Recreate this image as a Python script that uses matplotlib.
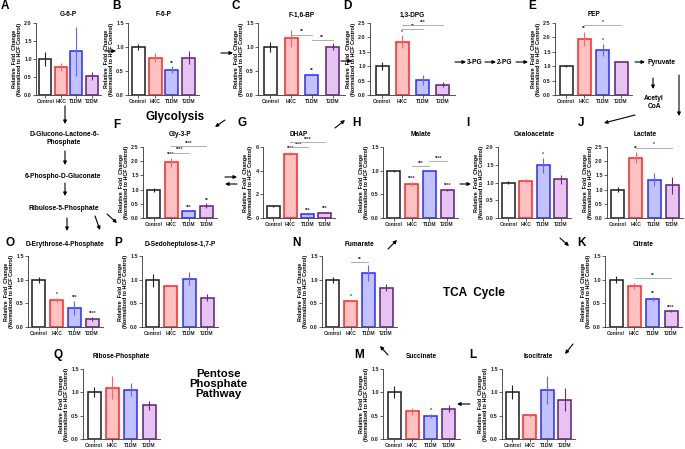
import matplotlib
matplotlib.use("Agg")
import matplotlib.pyplot as plt
from matplotlib.patches import FancyArrowPatch
from matplotlib.ticker import FormatStrFormatter
import numpy as np

plt.rcParams['font.family'] = ['Liberation Sans', 'DejaVu Sans']
plt.rcParams['font.weight'] = 'bold'

W, H = 685, 449

groups = ["Control", "HKC", "T1DM", "T2DM"]

g6p_mean = [1.00, 0.77, 1.21, 0.53]
g6p_err = [0.20, 0.11, 0.67, 0.11]
f6p_mean = [1.00, 0.78, 0.53, 0.78]
f6p_err = [0.06, 0.10, 0.07, 0.13]
f16bp_mean = [1.00, 1.18, 0.42, 1.01]
f16bp_err = [0.10, 0.17, 0.03, 0.08]
dpg_mean = [1.00, 1.85, 0.53, 0.36]
dpg_err = [0.14, 0.22, 0.18, 0.08]
pep_mean = [1.00, 1.95, 1.57, 1.16]
pep_err = [0.03, 0.25, 0.20, 0.02]
gly3p_mean = [1.00, 1.97, 0.24, 0.44]
gly3p_err = [0.07, 0.16, 0.03, 0.08]
dhap_mean = [1.00, 5.45, 0.30, 0.45]
dhap_err = [0.08, 0.15, 0.05, 0.05]
malate_mean = [1.00, 0.72, 0.99, 0.60]
malate_err = [0.02, 0.04, 0.02, 0.02]
oaa_mean = [1.00, 1.04, 1.48, 1.09]
oaa_err = [0.05, 0.06, 0.22, 0.13]
lactate_mean = [1.00, 2.13, 1.35, 1.16]
lactate_err = [0.10, 0.20, 0.22, 0.30]
e4p_mean = [1.00, 0.57, 0.40, 0.17]
e4p_err = [0.06, 0.04, 0.15, 0.04]
s17p_mean = [0.99, 0.86, 1.02, 0.62]
s17p_err = [0.14, 0.00, 0.14, 0.07]
fumarate_mean = [1.00, 0.55, 1.14, 0.83]
fumarate_err = [0.06, 0.03, 0.16, 0.07]
citrate_mean = [1.00, 0.87, 0.59, 0.33]
citrate_err = [0.07, 0.07, 0.05, 0.02]
r5p_mean = [1.00, 1.10, 1.06, 0.72]
r5p_err = [0.11, 0.24, 0.14, 0.09]
succinate_mean = [1.00, 0.59, 0.50, 0.65]
succinate_err = [0.13, 0.07, 0.04, 0.08]
isocitrate_mean = [1.00, 0.51, 1.06, 0.84]
isocitrate_err = [0.15, 0.03, 0.30, 0.25]

fill_colors = ["#ffffff", "#ffc2c2", "#c2c2ff", "#e6c3f2"]
edge_colors = ["#1a1a1a", "#ff2424", "#2a2aff", "#5c1f70"]
err_colors = ["#222222", "#ff6464", "#6464ff", "#6a2a80"]

fig = plt.figure(figsize=(W / 100, H / 100), dpi=100)


def fx(x):
    return x / W


def fy(y):
    return 1 - y / H


def panel(box, letter, letter_pos, title, title_y, mean, err, ymax, ystep,
          stars=None, brackets=None, fmt="%.1f"):
    x0, x1, y0, y1 = box
    ax = fig.add_axes([fx(x0), fy(y1), (x1 - x0) / W, (y1 - y0) / H])
    x = np.arange(len(groups))
    ppu = (x1 - x0) / 4.2
    bw = min(0.8, 13 / ppu)
    m = np.array(mean)
    e = np.array(err)
    ax.bar(x, m, width=bw, color=fill_colors, edgecolor=edge_colors,
           linewidth=1.1, zorder=2)
    ax.vlines(x, m - e, m + e, colors=err_colors, linewidth=0.8, zorder=3)
    ax.set_xlim(-0.6, 3.6)
    ax.set_ylim(0, ymax)
    ax.set_yticks(np.arange(0, ymax + 1e-9, ystep))
    ax.yaxis.set_major_formatter(FormatStrFormatter(fmt))
    ax.set_xticks(x)
    ax.set_xticklabels(groups)
    for s in ["top", "right"]:
        ax.spines[s].set_visible(False)
    for s in ["left", "bottom"]:
        ax.spines[s].set_linewidth(0.6)
        ax.spines[s].set_color("#333333")
    ax.tick_params(axis="both", length=2, width=0.5, pad=1, colors="#222222")
    ax.tick_params(axis="y", labelsize=4.0)
    ax.tick_params(axis="x", labelsize=3.6)
    ax.set_ylabel("Relative  Fold  Change\n(Normalized to HCF Control)",
                  fontsize=3.9, fontweight="bold", labelpad=1.5, linespacing=1.1)
    if stars:
        for i, s in enumerate(stars):
            if s:
                ax.text(i, m[i] + e[i] + ymax * 0.01, s, ha="center", va="bottom",
                        fontsize=3.5, color="#333333", clip_on=False)
    if brackets:
        for (i, j, yb, s) in brackets:
            ax.plot([i, j], [yb, yb], color="#a0a0a0", lw=0.6, clip_on=False, zorder=4)
            ax.text((i + j) / 2, yb + ymax * 0.004, s, ha="center", va="bottom",
                    fontsize=3.5, color="#333333", clip_on=False)
    fig.text(fx(letter_pos[0]), fy(letter_pos[1]), letter, fontsize=8.5,
             fontweight="bold", ha="left", va="center")
    fig.text(fx((x0 + x1) / 2), fy(title_y), title, fontsize=4.7,
             fontweight="bold", ha="center", va="center")
    return ax


# Row 1
panel((36, 101, 23, 95), "A", (1, 6), "G-6-P", 15, g6p_mean, g6p_err, 2.0, 0.5)
panel((128, 199, 23, 95), "B", (112, 6), "F-6-P", 15, f6p_mean, f6p_err, 1.5, 0.5,
      stars=["", "", "**", ""])
panel((258, 345, 23, 95), "C", (231, 6), "F-1,6-BP", 15, f16bp_mean, f16bp_err, 1.5, 0.5,
      stars=["", "", "**", ""], brackets=[(1, 2, 1.26, "**"), (2, 3, 1.15, "**")])
panel((370, 455, 23, 95), "D", (343, 6), "1,3-DPG", 15, dpg_mean, dpg_err, 2.5, 0.5,
      stars=["", "*", "", ""], brackets=[(1, 2, 2.28, "**"), (1, 3, 2.44, "***")])
panel((555, 632, 23, 95), "E", (528, 6), "PEP", 15, pep_mean, pep_err, 2.5, 0.5,
      stars=["", "**", "*", ""], brackets=[(1, 3, 2.42, "*")])

# Row 2
panel((143, 217, 147, 218), "F", (113, 125), "Gly-3-P", 135, gly3p_mean, gly3p_err, 2.5, 0.5,
      stars=["", "****", "***", "**"],
      brackets=[(1, 2, 2.3, "****"), (1, 3, 2.52, "****")])
panel((263, 335, 147, 218), "G", (237, 123), "DHAP", 135, dhap_mean, dhap_err, 6, 2,
      stars=["", "****", "***", "***"],
      brackets=[(1, 2, 6.0, "****"), (1, 3, 6.4, "****")], fmt="%d")
panel((383, 458, 147, 218), "H", (352, 123), "Malate", 135, malate_mean, malate_err, 1.5, 0.5,
      stars=["", "****", "", "****"],
      brackets=[(1, 2, 1.10, "***"), (2, 3, 1.21, "****")])
panel((498, 571, 147, 218), "I", (466, 123), "Oxaloacetate", 135, oaa_mean, oaa_err, 2.0, 0.5,
      stars=["", "", "*", ""])
panel((607, 683, 147, 218), "J", (578, 123), "Lactate", 135, lactate_mean, lactate_err, 2.5, 0.5,
      stars=["", "**", "", ""], brackets=[(1, 3, 2.48, "*")])

# Row 3
panel((28, 103, 256, 327), "O", (5, 243), "D-Erythrose-4-Phosphate", 244, e4p_mean, e4p_err, 1.5, 0.5,
      stars=["", "*", "***", "****"])
panel((142, 218, 256, 327), "P", (114, 243), "D-Sedoheptulose-1,7-P", 244, s17p_mean, s17p_err, 1.5, 0.5)
panel((322, 397, 256, 327), "N", (292, 243), "Fumarate", 244, fumarate_mean, fumarate_err, 1.5, 0.5,
      stars=["", "*", "", ""], brackets=[(1, 2, 1.37, "**")])
panel((605, 682, 256, 327), "K", (577, 243), "Citrate", 244, citrate_mean, citrate_err, 1.5, 0.5,
      stars=["", "", "**", "****"], brackets=[(1, 3, 1.03, "**")])

# Row 4
panel((83, 160, 369, 439), "Q", (54, 355), "Ribose-Phosphate", 356, r5p_mean, r5p_err, 1.5, 0.5)
panel((383, 460, 369, 439), "M", (354, 355), "Succinate", 356, succinate_mean, succinate_err, 1.5, 0.5,
      stars=["", "", "*", ""])
panel((502, 575, 369, 439), "L", (469, 355), "Isocitrate", 356, isocitrate_mean, isocitrate_err, 1.5, 0.5)


def arrow(xa, ya, xb, yb):
    fig.add_artist(FancyArrowPatch((fx(xa), fy(ya)), (fx(xb), fy(yb)),
                                   transform=fig.transFigure, arrowstyle="-|>",
                                   mutation_scale=5, lw=0.8, color="black",
                                   shrinkA=0, shrinkB=0))


def label(x, y, s, size=4.8):
    fig.text(fx(x), fy(y), s, fontsize=size, fontweight="bold", ha="center", va="center")


# glycolysis flow
arrow(105, 51, 116, 51)
arrow(221, 53, 233, 53)
arrow(341, 61, 352, 61)
arrow(455, 62, 466, 62)
label(475, 62, "3-PG")
arrow(485, 62, 496, 62)
label(505, 62, "2-PG")
arrow(516, 62, 528, 62)
arrow(635, 62, 645, 62)
label(662, 62, "Pyruvate")
arrow(653, 78, 653, 89)
label(654, 99, "Acetyl")
label(654, 107, "CoA")
arrow(679, 75, 679, 116)
arrow(635, 115, 604, 123)
arrow(225, 120, 215, 127)
arrow(335, 128, 345, 120)
arrow(225, 177, 237, 177)
arrow(237, 184, 225, 184)
arrow(460, 184, 471, 184)
arrow(560, 238, 569, 246)
arrow(573, 344, 565, 354)
arrow(470, 404, 457, 404)
arrow(388, 355, 380, 346)
arrow(388, 249, 397, 240)

# pentose phosphate flow
arrow(65, 106, 65, 124)
label(64, 135, "D-Glucono-Lactone-6-")
label(64, 143, "Phosphate")
arrow(65, 151, 65, 165)
label(63, 177, "6-Phospho-D-Gluconate")
arrow(65, 183, 65, 196)
label(64, 209, "Ribulose-5-Phosphate")
arrow(67, 218, 67, 231)
arrow(95, 216, 100, 230)
arrow(107, 214, 117, 223)

# big labels
label(175, 117, "Glycolysis", 8.5)
label(474, 293, "TCA  Cycle", 8.5)
fig.text(fx(218), fy(384), "Pentose\nPhosphate\nPathway", fontsize=8.2, fontweight="bold",
         ha="center", va="center", linespacing=1.05)

fig.savefig("out.png", dpi=100)
